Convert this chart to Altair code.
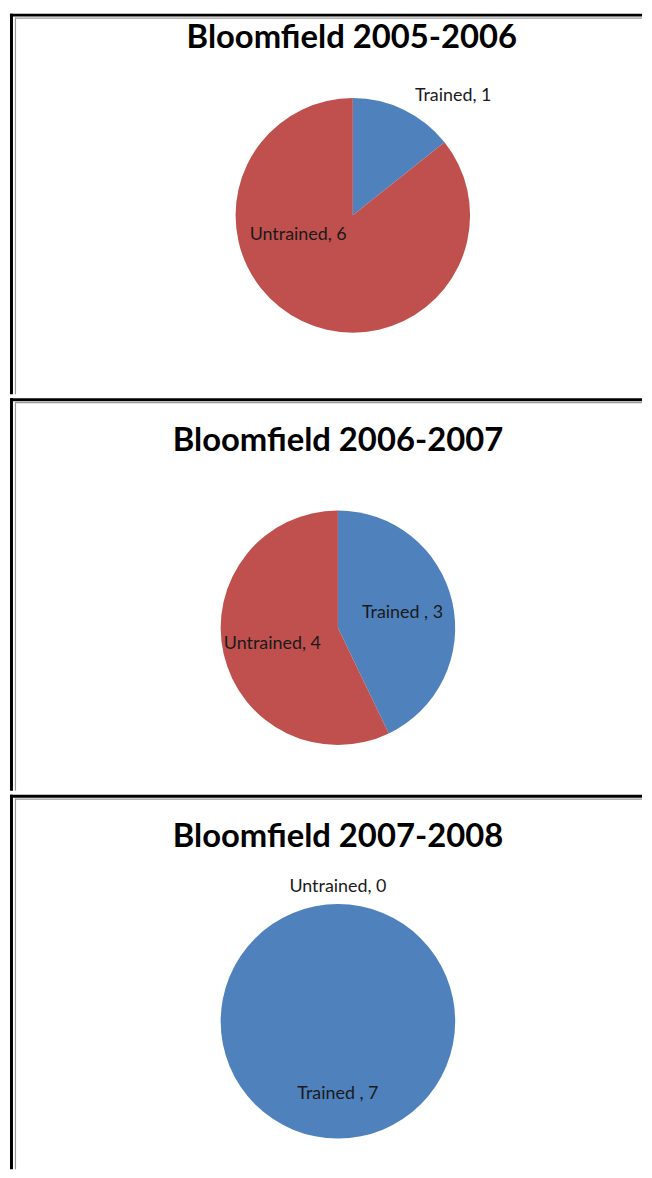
import altair as alt
import pandas as pd

titles = ["Bloomfield 2005-2006", "Bloomfield 2006-2007", "Bloomfield 2007-2008"]
categories = ["Trained", "Untrained"]
trained = [1, 3, 7]
untrained = [6, 4, 0]
label_text = [
    ["Trained,  1", "Untrained, 6"],
    ["Trained , 3", "Untrained, 4"],
    ["Trained , 7", "Untrained, 0"],
]
colors = ["#4F81BD", "#C0504D"]

# layout (pixels within each panel)
panel_w = 636
panel_h = [383, 395, 377]
centers = [(345, 203), (330, 231), (330, 228)]
title_pos = [(344, 25), (330, 43), (330, 43)]
label_pos = [
    [(446, 83), (290, 223)],
    [(395, 216), (264, 247)],
    [(330, 301), (330, 93)],
]
R = 118

panels = []
for i in range(3):
    df = pd.DataFrame({
        "category": categories,
        "value": [trained[i], untrained[i]],
        "idx": [0, 1],
    })
    cx, cy = centers[i]
    h = panel_h[i]
    pie = alt.Chart(df).mark_arc(radius=R).encode(
        theta=alt.Theta("value:Q", stack=True),
        color=alt.Color("category:N", scale=alt.Scale(domain=categories, range=colors), legend=None),
        order=alt.Order("idx:Q"),
        x=alt.value(cx),
        y=alt.value(cy),
    )
    tdf = pd.DataFrame({"t": [titles[i]]})
    title = alt.Chart(tdf).mark_text(
        font="Lato", fontWeight="bold", fontSize=33, color="black", align="center", baseline="middle"
    ).encode(text="t:N", x=alt.value(title_pos[i][0]), y=alt.value(title_pos[i][1]))
    # frame lines (top and left), black with a thin grey inner line
    frame = [
        alt.Chart(tdf).mark_rule(color="black", strokeWidth=3).encode(
            x=alt.value(0), x2=alt.value(panel_w), y=alt.value(1.5)),
        alt.Chart(tdf).mark_rule(color="black", strokeWidth=3).encode(
            x=alt.value(1.5), y=alt.value(0), y2=alt.value(h)),
        alt.Chart(tdf).mark_rule(color="#999999", strokeWidth=1.2).encode(
            x=alt.value(5), x2=alt.value(panel_w), y=alt.value(4.5)),
        alt.Chart(tdf).mark_rule(color="#999999", strokeWidth=1.2).encode(
            x=alt.value(5.5), y=alt.value(4), y2=alt.value(h)),
    ]
    layers = [pie, title]
    for j in range(2):
        ldf = pd.DataFrame({"t": [label_text[i][j]]})
        lx, ly = label_pos[i][j]
        layers.append(
            alt.Chart(ldf).mark_text(
                font="Lato", fontSize=18, color="#1a1a1a", align="center", baseline="middle"
            ).encode(text="t:N", x=alt.value(lx), y=alt.value(ly))
        )
    panels.append(alt.layer(*layers, *frame).properties(width=panel_w, height=h))

chart = alt.vconcat(*panels, spacing=0).properties(padding=0).configure_view(
    strokeWidth=0
).configure_concat(spacing=0)

chart.save("out.html", embed_options={"renderer": "svg", "actions": False})
